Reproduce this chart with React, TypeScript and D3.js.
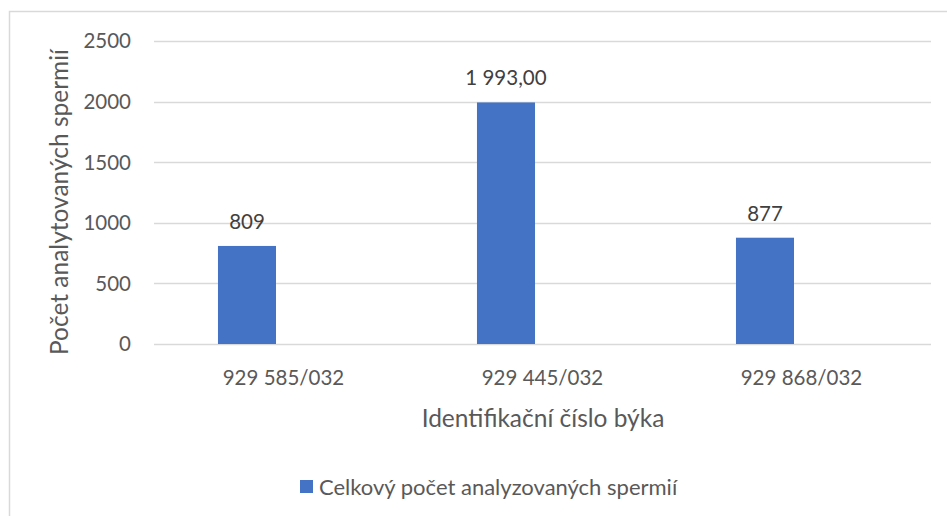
import * as d3 from 'd3';
import React, { useRef, useEffect } from 'react';

const categories = ['929 585/032', '929 445/032', '929 868/032'];
const values = [809, 1993, 877];
const valueLabels = ['809', '1 993,00', '877'];
const yTicks = [0, 500, 1000, 1500, 2000, 2500];
const seriesName = 'Celkový počet analyzovaných spermií';
const xTitle = 'Identifikační číslo býka';
const yTitle = 'Počet analytovaných spermií';

const W = 947;
const H = 516;
const FONT = 'Lato, "Open Sans", sans-serif';
const TEXT = '#595959';
const GRID = '#d9d9d9';
const BAR = '#4472c4';

function Chart() {
    const ref = useRef<SVGSVGElement>(null);

    useEffect(() => {
        const svg = d3.select(ref.current);
        svg.selectAll('*').remove();

        const x = d3.scaleBand().domain(categories).range([154, 931]).padding(0);
        const y = d3.scaleLinear().domain([0, 2500]).range([344, 41]);
        const bw = x.bandwidth();

        // chart area frame
        svg.append('rect')
            .attr('x', 9.5).attr('y', 11.5)
            .attr('width', 960).attr('height', 520)
            .attr('fill', 'white')
            .attr('stroke', GRID).attr('stroke-width', 1.5);

        // gridlines
        svg.selectAll('line.grid')
            .data(yTicks)
            .enter().append('line')
            .attr('class', 'grid')
            .attr('x1', 154).attr('x2', 931)
            .attr('y1', d => Math.round(y(d)) + 0.5)
            .attr('y2', d => Math.round(y(d)) + 0.5)
            .attr('stroke', GRID).attr('stroke-width', 1.5);

        // y tick labels
        svg.selectAll('text.ytick')
            .data(yTicks)
            .enter().append('text')
            .attr('class', 'ytick')
            .attr('x', 131)
            .attr('y', d => y(d))
            .attr('dy', '0.36em')
            .attr('text-anchor', 'end')
            .attr('font-family', FONT).attr('font-size', 20.5)
            .attr('fill', TEXT)
            .text(d => d);

        // bars
        svg.selectAll('rect.bar')
            .data(values)
            .enter().append('rect')
            .attr('class', 'bar')
            .attr('x', (d, i) => x(categories[i])! + bw * 0.247)
            .attr('width', bw * 0.224)
            .attr('y', d => y(d))
            .attr('height', d => y(0) - y(d))
            .attr('fill', BAR);

        // value labels
        svg.selectAll('text.val')
            .data(values)
            .enter().append('text')
            .attr('class', 'val')
            .attr('x', (d, i) => x(categories[i])! + bw * 0.247 + bw * 0.112)
            .attr('y', d => y(d) - 17)
            .attr('text-anchor', 'middle')
            .attr('font-family', FONT).attr('font-size', 20.5)
            .attr('fill', '#404040')
            .text((d, i) => valueLabels[i]);

        // category labels
        svg.selectAll('text.cat')
            .data(categories)
            .enter().append('text')
            .attr('class', 'cat')
            .attr('x', d => x(d)! + bw / 2)
            .attr('y', 378)
            .attr('dy', '0.36em')
            .attr('text-anchor', 'middle')
            .attr('font-family', FONT).attr('font-size', 20.5)
            .attr('fill', TEXT)
            .text(d => d);

        // x axis title
        svg.append('text')
            .attr('x', 543).attr('y', 418)
            .attr('dy', '0.36em')
            .attr('text-anchor', 'middle')
            .attr('font-family', FONT).attr('font-size', 24.5)
            .attr('fill', TEXT)
            .text(xTitle);

        // y axis title
        svg.append('text')
            .attr('transform', 'translate(59,202) rotate(-90)')
            .attr('dy', '0.36em')
            .attr('text-anchor', 'middle')
            .attr('font-family', FONT).attr('font-size', 24.5)
            .attr('fill', TEXT)
            .text(yTitle);

        // legend
        const lg = svg.append('g').attr('transform', 'translate(300,487)');
        lg.append('rect')
            .attr('x', 0).attr('y', -7)
            .attr('width', 13).attr('height', 13)
            .attr('fill', BAR);
        lg.append('text')
            .attr('x', 19).attr('y', 0)
            .attr('dy', '0.36em')
            .attr('font-family', FONT).attr('font-size', 22)
            .attr('fill', TEXT)
            .text(seriesName);
    }, []);

    return (
        <svg ref={ref} width={W} height={H}
            style={{ position: 'absolute', left: 0, top: 0, background: 'white' }} />
    );
}

export default function App() {
    return <Chart />;
}
